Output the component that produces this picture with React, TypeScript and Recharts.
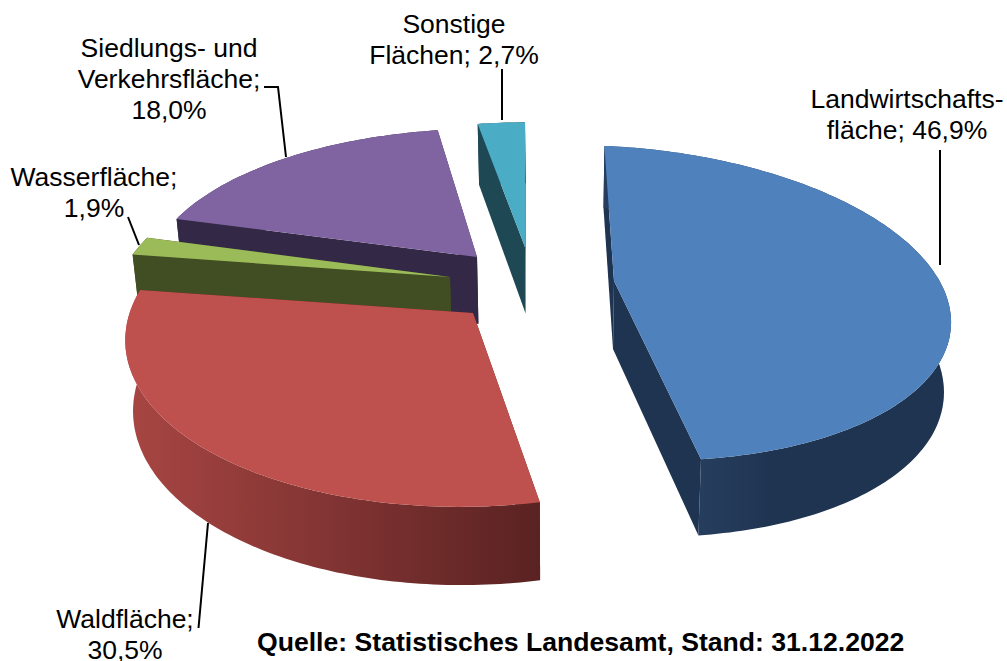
import React from "react";
import { PieChart, Pie } from "recharts";

// Series, in drawing order (back to front); the pie runs counter-clockwise from 12 o'clock.
const categories = ["Sonstige Flächen", "Siedlungs- und Verkehrsfläche", "Wasserfläche", "Waldfläche", "Landwirtschaftsfläche"];
const values = [2.7, 18.0, 1.9, 30.5, 46.9];
const labelLines = [
  ["Sonstige", "Flächen; 2,7%"],
  ["Siedlungs- und", "Verkehrsfläche;", "18,0%"],
  ["Wasserfläche;", "1,9%"],
  ["Waldfläche;", "30,5%"],
  ["Landwirtschafts-", "fläche; 46,9%"],
];
const sourceNote = "Quelle: Statistisches Landesamt, Stand: 31.12.2022";

const data = categories.map((name, i) => ({ name, value: values[i] }));

// Look of each slice
const topColors = ["#4BACC6", "#8064A2", "#9BBB59", "#BE504D", "#4F81BD"];
const sideFrom = ["#1F4855", "#332845", "#414D23", "#A84643", "#263E5E"];
const sideTo = ["#1F4855", "#332845", "#414D23", "#5A2222", "#1F3451"];
// Tilted-plane projection of each exploded slice: apex x, y, homography a, b, d, e and perspective
const projections = [
  [525, 247, 314, 0, 0, -140, 0.123],
  [477, 257, 325, 11, 1, -144, 0.123],
  [450, 277, 330, 20, 0, -152, 0.123],
  [473, 313, 344, 8, -2, -170, 0.123],
  [614, 281, 332, -11, 14, -154, 0.14],
];
const labelAnchors = [
  [454, 33],
  [169, 57],
  [94, 186],
  [125, 628],
  [907, 108],
];
const leaders = [
  "M502 69 L502 120",
  "M264 87 L278 87 L286 157",
  "M128 217 L139 245",
  "M198.5 628 L208 523",
  "M940 150 L940 265",
];
const FONT = "'Liberation Sans', Arial, sans-serif";
const FONT_SIZE = 26.5;
const LINE_H = 31;

type P = [number, number];

const indexOf = (props: any) => categories.indexOf(props.name ?? props.payload?.name);

const project = (i: number, deg: number): P => {
  const [ax, ay, a, b, d, e, c] = projections[i];
  const u = Math.cos((deg * Math.PI) / 180);
  const v = Math.sin((deg * Math.PI) / 180);
  const w = 1 + c * v;
  return [ax + (a * u + b * v) / w, ay + (d * u + e * v) / w];
};
const drop = ([x, y]: P): P => [x + (557 - x) * 0.018, y + 62 + 0.045 * (y - 146)];
const toPath = (pts: P[]) => "M" + pts.map((p) => `${p[0].toFixed(1)} ${p[1].toFixed(1)}`).join("L") + "Z";

function Slice3D(props: any) {
  const i = indexOf(props);
  const { startAngle, endAngle } = props;
  const n = Math.max(4, Math.ceil(Math.abs(endAngle - startAngle)));
  const arc: P[] = [];
  for (let k = 0; k <= n; k++) arc.push(project(i, startAngle + ((endAngle - startAngle) * k) / n));
  const apex: P = [projections[i][0], projections[i][1]];
  const first = arc[0];
  const last = arc[arc.length - 1];
  const gid = `rim-${i}`;
  return (
    <g>
      <defs>
        <linearGradient id={gid} gradientUnits="userSpaceOnUse" x1={i === 4 ? 700 : 125} x2={i === 4 ? 770 : 540} y1={0} y2={0}>
          <stop offset="0" stopColor={sideFrom[i]} />
          <stop offset="1" stopColor={sideTo[i]} />
        </linearGradient>
      </defs>
      <path d={toPath([apex, first, drop(first), drop(apex)])} fill={sideTo[i]} />
      <path d={toPath([apex, last, drop(last), drop(apex)])} fill={sideTo[i]} />
      <path d={toPath([...arc, ...arc.map(drop).reverse()])} fill={`url(#${gid})`} />
      <path d={toPath([apex, ...arc])} fill={topColors[i]} />
    </g>
  );
}

function SliceLabel(props: any) {
  const i = indexOf(props);
  const [x, y] = labelAnchors[i];
  return (
    <g>
      <path d={leaders[i]} fill="none" stroke="#000" strokeWidth={2} />
      <text x={x} y={y} textAnchor="middle" fontFamily={FONT} fontSize={FONT_SIZE} fill="#000">
        {labelLines[i].map((line, k) => (
          <tspan key={k} x={x} y={y + k * LINE_H}>
            {line}
          </tspan>
        ))}
      </text>
    </g>
  );
}

export default function App() {
  return (
    <div style={{ position: "absolute", left: 0, top: 0, width: 1007, height: 661, overflow: "hidden", background: "#fff" }}>
      <PieChart width={1007} height={661} margin={{ top: 0, right: 0, bottom: 0, left: 0 }}>
        <Pie
          data={data}
          dataKey="value"
          nameKey="name"
          cx={540}
          cy={330}
          outerRadius={300}
          startAngle={90}
          endAngle={450}
          paddingAngle={0}
          stroke="none"
          isAnimationActive={false}
          shape={Slice3D}
          label={SliceLabel}
          labelLine={false}
        />
        <text x={257} y={651} fontFamily={FONT} fontSize={26.6} fontWeight="bold" fill="#000">
          {sourceNote}
        </text>
      </PieChart>
    </div>
  );
}
